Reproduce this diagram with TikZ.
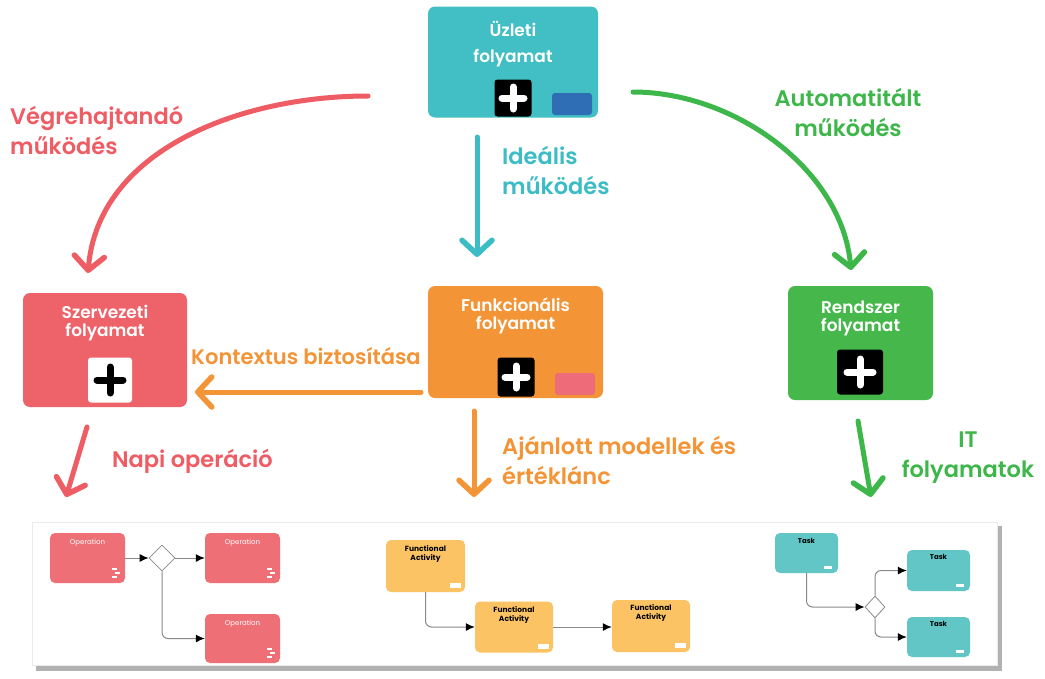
\documentclass[tikz,border=0pt]{standalone}
\usepackage{fontspec}
\setmainfont{Poppins}
\newfontfamily\labelfont{Poppins}[UprightFont=* SemiBold]
\usetikzlibrary{arrows.meta,shapes.geometric}

\definecolor{cRed}{HTML}{EE5C64}
\definecolor{cRedBox}{HTML}{EE636A}
\definecolor{cTeal}{HTML}{42BFC4}
\definecolor{cTealTxt}{HTML}{3CBCC4}
\definecolor{cOrange}{HTML}{F39436}
\definecolor{cGreen}{HTML}{3DB64A}
\definecolor{cGreenBox}{HTML}{46B84B}
\definecolor{cBlue}{HTML}{2F6EB5}
\definecolor{cPink}{HTML}{EE6C7A}
\definecolor{cOp}{HTML}{EF6F77}
\definecolor{cFA}{HTML}{FBC364}
\definecolor{cTask}{HTML}{62C6C7}
\definecolor{cLink}{HTML}{8A8A8A}

\tikzset{
  bigbox/.style={rounded corners=7pt, inner sep=0pt},
  boxtitle/.style={text=white, font=\fontsize{17}{20}\labelfont, align=center, inner sep=0pt},
  label/.style={font=\fontsize{22.5}{30}\labelfont, inner sep=0pt},
  flow/.style={line width=5pt, line cap=round,
    -{Straight Barb[length=14pt, width=30pt, line width=5.5pt, round]}},
  iconbox/.style={rounded corners=3pt, inner sep=0pt},
  plusbar/.style={line width=7pt, line cap=round},
  minibox/.style={rounded corners=5pt, inner sep=0pt},
  minitxt/.style={font=\fontsize{7}{8}\selectfont, inner sep=0pt, align=center},
  gate/.style={diamond, draw=cLink, fill=white, line width=0.8pt, inner sep=0pt},
  link/.style={draw=cLink, line width=1pt, rounded corners=6pt, -{Latex[length=9pt, width=8pt, black]}},
}

% plus icon: name, x, y, width, height, background, mark colour, arm
\newcommand\plusicon[8]{%
  \node[iconbox, fill=#6, minimum width=#4pt, minimum height=#5pt] (#1) at (#2,#3) {};
  \draw[plusbar, #7] ([xshift=-#8pt]#1.center) -- ([xshift=#8pt]#1.center);
  \draw[plusbar, #7] ([yshift=-#8pt]#1.center) -- ([yshift=#8pt]#1.center);
}
% small white marker in the lower right corner of an operation box
\newcommand\cornermark[1]{%
  \fill[white] ([xshift=-8pt,yshift=13pt]#1.south east) rectangle ++(-5pt,2.5pt);
  \fill[white] ([xshift=-5pt,yshift=9pt]#1.south east) rectangle ++(-5pt,2.5pt);
  \fill[white] ([xshift=-8pt,yshift=5pt]#1.south east) rectangle ++(-5pt,2.5pt);
}

\begin{document}
\begin{tikzpicture}[x=1pt, y=-1pt]
\useasboundingbox[fill=white] (0,0) rectangle (1045,678);

% ---- main process boxes ----
\node[bigbox, fill=cTeal, minimum width=170pt, minimum height=111pt] (biz) at (513,62) {};
\node[boxtitle] (bizt) at (513,44) {Üzleti\\[6pt]folyamat};
\plusicon{bizp}{513}{98}{37}{37}{black}{white}{11}
\node[iconbox, fill=cBlue, minimum width=40pt, minimum height=22pt] (bizb) at (572,104) {};

\node[bigbox, fill=cRedBox, minimum width=164pt, minimum height=114pt] (org) at (105,350) {};
\node[boxtitle] (orgt) at (105,323) {Szervezeti\\[-2pt]folyamat};
\plusicon{orgp}{110}{380}{44}{45}{white}{black}{13}

\node[bigbox, fill=cOrange, minimum width=175pt, minimum height=112pt] (fun) at (515.5,342) {};
\node[boxtitle] (funt) at (515.5,316) {Funkcionális\\[-2pt]folyamat};
\plusicon{funp}{516}{377}{37}{39}{black}{white}{11}
\node[iconbox, fill=cPink, minimum width=40pt, minimum height=22pt] (funb) at (575,384) {};

\node[bigbox, fill=cGreenBox, minimum width=145pt, minimum height=114pt] (sys) at (860.5,343) {};
\node[boxtitle] (syst) at (860.5,318) {Rendszer\\[-2pt]folyamat};
\plusicon{sysp}{860}{372}{46}{45}{black}{white}{13}

% ---- flows between the levels ----
\coordinate (redA) at (368,96);
\coordinate (redB) at (88,273);
\draw[flow, cRed] (redA) .. controls (240,96) and (98,150) .. (redB);
\node[label, text=cRed, align=left, anchor=west] (redL) at (10,130) {Végrehajtandó\\működés};

\coordinate (grnA) at (633,92);
\coordinate (grnB) at (851,270);
\draw[flow, cGreen] (grnA) .. controls (735,92) and (842,170) .. (grnB);
\node[label, text=cGreen, align=center] (grnL) at (848,112) {Automatitált\\működés};

\coordinate (tealA) at (477,137);
\coordinate (tealB) at (477,257);
\draw[flow, cTealTxt] (tealA) -- (tealB);
\node[label, text=cTealTxt, align=left, anchor=west] (tealL) at (502,170) {Ideális\\működés};

\coordinate (ctxA) at (421,392);
\coordinate (ctxB) at (195,392);
\draw[flow, cOrange] (ctxA) -- (ctxB);
\node[label, font=\fontsize{21}{28}\labelfont, text=cOrange, anchor=west] (ctxL) at (191,356) {Kontextus biztosítása};

\coordinate (opA) at (87,427);
\coordinate (opB) at (66,497);
\draw[flow, cRed] (opA) -- (opB);
\node[label, text=cRed, anchor=west] (opL) at (112,461) {Napi operáció};

\coordinate (faA) at (474,411);
\coordinate (faB) at (474,497);
\draw[flow, cOrange] (faA) -- (faB);
\node[label, text=cOrange, align=left, anchor=west] (faL) at (502,460) {Ajánlott modellek és\\értéklánc};

\coordinate (itA) at (858,421);
\coordinate (itB) at (871,497);
\draw[flow, cGreen] (itA) -- (itB);
\node[label, text=cGreen, align=center] (itL) at (968,458) {IT\\folyamatok};

% ---- model panel ----
\fill[black!30] (36,526) rectangle (1002,671);
\node[draw=black!8, fill=white, inner sep=0pt, minimum width=965pt, minimum height=143pt] (panel) at (515,594) {};

% daily operations
\node[minibox, fill=cOp, minimum width=75pt, minimum height=50pt] (op1) at (87.5,558) {};
\node[minitxt, text=white] at (87.5,543) {Operation};
\node[minibox, fill=cOp, minimum width=75pt, minimum height=50pt] (op2) at (242.5,558) {};
\node[minitxt, text=white] at (242.5,543) {Operation};
\node[minibox, fill=cOp, minimum width=75pt, minimum height=49pt] (op3) at (242.5,638.5) {};
\node[minitxt, text=white] at (242.5,624) {Operation};
\cornermark{op1}\cornermark{op2}\cornermark{op3}
\node[gate, minimum width=26pt, minimum height=26pt] (g1) at (162,558) {};
\draw[link] (op1.east) -- (g1.west);
\draw[link] (g1.east) -- (op2.west);
\draw[link] (g1.south) |- (op3.west);

% functional activities
\node[minibox, fill=cFA, minimum width=79pt, minimum height=52pt] (fa1) at (425.5,566) {};
\node[minitxt, font=\fontsize{7.5}{9}\selectfont\bfseries] at (425.5,554) {Functional\\Activity};
\node[minibox, fill=cFA, minimum width=78pt, minimum height=51pt] (fa2) at (514,627) {};
\node[minitxt, font=\fontsize{7.5}{9}\selectfont\bfseries] at (514,615) {Functional\\Activity};
\node[minibox, fill=cFA, minimum width=78pt, minimum height=52pt] (fa3) at (651,626) {};
\node[minitxt, font=\fontsize{7.5}{9}\selectfont\bfseries] at (651,613) {Functional\\Activity};
\fill[white] ([xshift=-4pt,yshift=4pt]fa1.south east) rectangle ++(-11pt,5pt);
\fill[white] ([xshift=-4pt,yshift=4pt]fa2.south east) rectangle ++(-11pt,5pt);
\fill[white] ([xshift=-4pt,yshift=4pt]fa3.south east) rectangle ++(-11pt,5pt);
\draw[link] (fa1.south) |- (fa2.west);
\draw[link] (fa2.east) -- (fa2.east -| fa3.west);

% IT tasks
\node[minibox, fill=cTask, minimum width=63pt, minimum height=40pt] (t1) at (806.5,553) {};
\node[minitxt, font=\fontsize{7}{8}\selectfont\bfseries] at (806.5,541) {Task};
\node[minibox, fill=cTask, minimum width=63pt, minimum height=41pt] (t2) at (938.5,570.5) {};
\node[minitxt, font=\fontsize{7}{8}\selectfont\bfseries] at (938.5,557) {Task};
\node[minibox, fill=cTask, minimum width=63pt, minimum height=40pt] (t3) at (938.5,637) {};
\node[minitxt, font=\fontsize{7}{8}\selectfont\bfseries] at (938.5,624) {Task};
\fill[white] ([xshift=-6pt,yshift=4pt]t1.south east) rectangle ++(-8pt,3pt);
\fill[white] ([xshift=-6pt,yshift=4pt]t2.south east) rectangle ++(-8pt,3pt);
\fill[white] ([xshift=-6pt,yshift=4pt]t3.south east) rectangle ++(-8pt,3pt);
\node[gate, minimum width=20pt, minimum height=22pt] (g2) at (875,607) {};
\draw[link] (t1.south) |- (g2.west);
\draw[link] (g2.north) |- (t2.west);
\draw[link] (g2.south) |- (t3.west);
\end{tikzpicture}
\end{document}
